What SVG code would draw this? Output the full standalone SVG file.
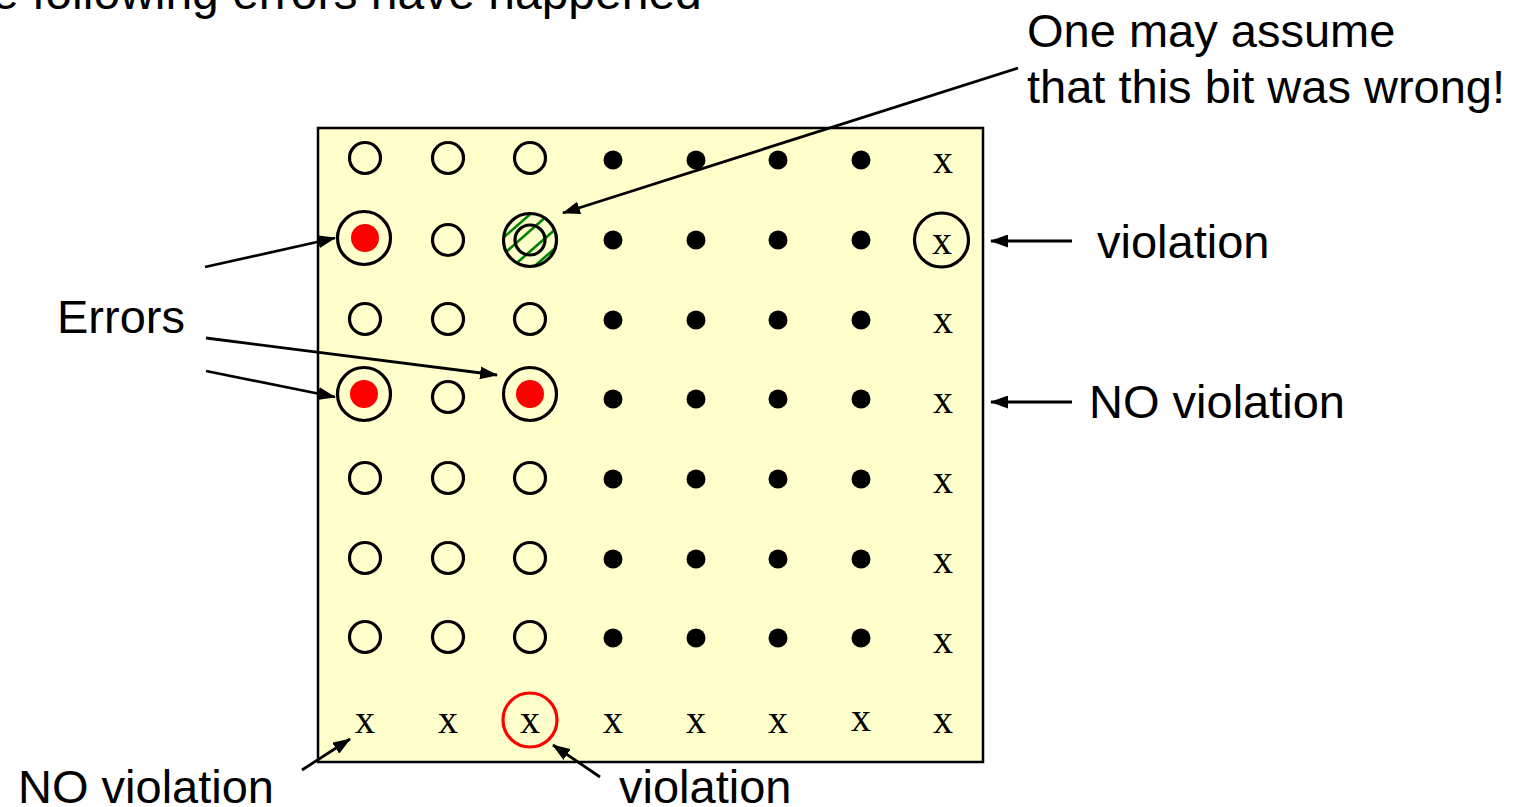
<svg xmlns="http://www.w3.org/2000/svg" width="1522" height="807" viewBox="0 0 1522 807">
<style>
.lbl{font-family:"Liberation Sans",Arial,sans-serif;font-size:47px;fill:#000}
.x{font-family:"Liberation Serif","Times New Roman",serif;font-size:40px;fill:#000;text-anchor:middle}
.ho{fill:none;stroke:#000;stroke-width:3.2}
.dot{fill:#000}
.big{fill:none;stroke:#000;stroke-width:3.2}
.red{fill:#FF0000}
.conn{stroke:#000;stroke-width:2.8;fill:none;marker-end:url(#ah)}
</style>
<defs>
<marker id="ah" markerUnits="userSpaceOnUse" markerWidth="18" markerHeight="13" refX="17" refY="6.5" orient="auto">
<path d="M0,0 L18,6.5 L0,13 Z" fill="#000"/>
</marker>
<clipPath id="hc"><circle cx="530" cy="240" r="26"/></clipPath>
</defs>
<rect width="1522" height="807" fill="#fff"/>
<text class="lbl" x="-8" y="9" style="font-size:48px">e following errors have happened</text>
<g id="board">
<rect x="318" y="128" width="665" height="634" fill="#FFFFCC" stroke="#000" stroke-width="2.5"/>
</g>
<g id="cells">
<circle class="ho" cx="365" cy="158" r="15.5"/><circle class="ho" cx="448" cy="158" r="15.5"/><circle class="ho" cx="530" cy="158" r="15.5"/>
<circle class="dot" cx="613" cy="160" r="9.5"/><circle class="dot" cx="696" cy="160" r="9.5"/><circle class="dot" cx="778" cy="160" r="9.5"/><circle class="dot" cx="861" cy="160" r="9.5"/>
<text class="x" x="943" y="173">x</text>
<circle class="ho" cx="448" cy="240" r="15.5"/>
<circle class="dot" cx="613" cy="240" r="9.5"/><circle class="dot" cx="696" cy="240" r="9.5"/><circle class="dot" cx="778" cy="240" r="9.5"/><circle class="dot" cx="861" cy="240" r="9.5"/>
<text class="x" x="942" y="254">x</text>
<circle class="ho" cx="365" cy="319" r="15.5"/><circle class="ho" cx="448" cy="319" r="15.5"/><circle class="ho" cx="530" cy="319" r="15.5"/>
<circle class="dot" cx="613" cy="320" r="9.5"/><circle class="dot" cx="696" cy="320" r="9.5"/><circle class="dot" cx="778" cy="320" r="9.5"/><circle class="dot" cx="861" cy="320" r="9.5"/>
<text class="x" x="943" y="333">x</text>
<circle class="ho" cx="448" cy="397" r="15.5"/>
<circle class="dot" cx="613" cy="399" r="9.5"/><circle class="dot" cx="696" cy="399" r="9.5"/><circle class="dot" cx="778" cy="399" r="9.5"/><circle class="dot" cx="861" cy="399" r="9.5"/>
<text class="x" x="943" y="413">x</text>
<circle class="ho" cx="365" cy="478" r="15.5"/><circle class="ho" cx="448" cy="478" r="15.5"/><circle class="ho" cx="530" cy="478" r="15.5"/>
<circle class="dot" cx="613" cy="479" r="9.5"/><circle class="dot" cx="696" cy="479" r="9.5"/><circle class="dot" cx="778" cy="479" r="9.5"/><circle class="dot" cx="861" cy="479" r="9.5"/>
<text class="x" x="943" y="493">x</text>
<circle class="ho" cx="365" cy="558" r="15.5"/><circle class="ho" cx="448" cy="558" r="15.5"/><circle class="ho" cx="530" cy="558" r="15.5"/>
<circle class="dot" cx="613" cy="559" r="9.5"/><circle class="dot" cx="696" cy="559" r="9.5"/><circle class="dot" cx="778" cy="559" r="9.5"/><circle class="dot" cx="861" cy="559" r="9.5"/>
<text class="x" x="943" y="573">x</text>
<circle class="ho" cx="365" cy="637" r="15.5"/><circle class="ho" cx="448" cy="637" r="15.5"/><circle class="ho" cx="530" cy="637" r="15.5"/>
<circle class="dot" cx="613" cy="638" r="9.5"/><circle class="dot" cx="696" cy="638" r="9.5"/><circle class="dot" cx="778" cy="638" r="9.5"/><circle class="dot" cx="861" cy="638" r="9.5"/>
<text class="x" x="943" y="653">x</text>
<text class="x" x="365" y="733">x</text><text class="x" x="448" y="733">x</text><text class="x" x="530" y="733">x</text><text class="x" x="613" y="733">x</text>
<text class="x" x="696" y="733">x</text><text class="x" x="778" y="733">x</text><text class="x" x="861" y="731">x</text><text class="x" x="943" y="733">x</text>
</g>
<g id="error-r2c1"><circle class="big" cx="364" cy="238" r="26.5"/><circle class="red" cx="365" cy="238" r="14"/></g>
<g id="error-r4c1"><circle class="big" cx="364" cy="394" r="26.5"/><circle class="red" cx="364" cy="394" r="14"/></g>
<g id="error-r4c3"><circle class="big" cx="530" cy="394" r="26.5"/><circle class="red" cx="530" cy="394" r="14"/></g>
<g id="suspect-r2c3">
<g clip-path="url(#hc)" stroke="#008000" stroke-width="2.6">
<line x1="495" y1="245" x2="535" y2="210"/>
<line x1="497" y1="260" x2="557" y2="207"/>
<line x1="503" y1="275" x2="565" y2="221"/>
<line x1="515" y1="283" x2="575" y2="231"/>
</g>
<circle cx="530" cy="240" r="15" fill="none" stroke="#000" stroke-width="3.2"/>
<circle class="big" cx="530" cy="240" r="26.5"/>
</g>
<g id="viol-r2"><circle class="big" cx="941.5" cy="240" r="27"/></g>
<g id="viol-c3"><circle cx="530" cy="720" r="27" fill="none" stroke="#FF0000" stroke-width="3.2"/></g>
<g id="connectors">
<line class="conn" x1="205" y1="267" x2="335" y2="238"/>
<line class="conn" x1="206" y1="338" x2="497" y2="375"/>
<line class="conn" x1="206" y1="371" x2="335" y2="397"/>
<line class="conn" x1="1018" y1="68" x2="563" y2="213"/>
<line class="conn" x1="1072" y1="241" x2="991" y2="241"/>
<line class="conn" x1="1072" y1="402" x2="991" y2="402"/>
<line class="conn" x1="302" y1="770" x2="350" y2="739"/>
<line class="conn" x1="600" y1="777" x2="553" y2="745"/>
</g>
<g id="labels">
<text class="lbl" x="1027" y="47">One may assume</text>
<text class="lbl" x="1027" y="103">that this bit was wrong!</text>
<text class="lbl" x="1097" y="258">violation</text>
<text class="lbl" x="57" y="333">Errors</text>
<text class="lbl" x="1089" y="418">NO violation</text>
<text class="lbl" x="18" y="803">NO violation</text>
<text class="lbl" x="619" y="803">violation</text>
</g>
</svg>
